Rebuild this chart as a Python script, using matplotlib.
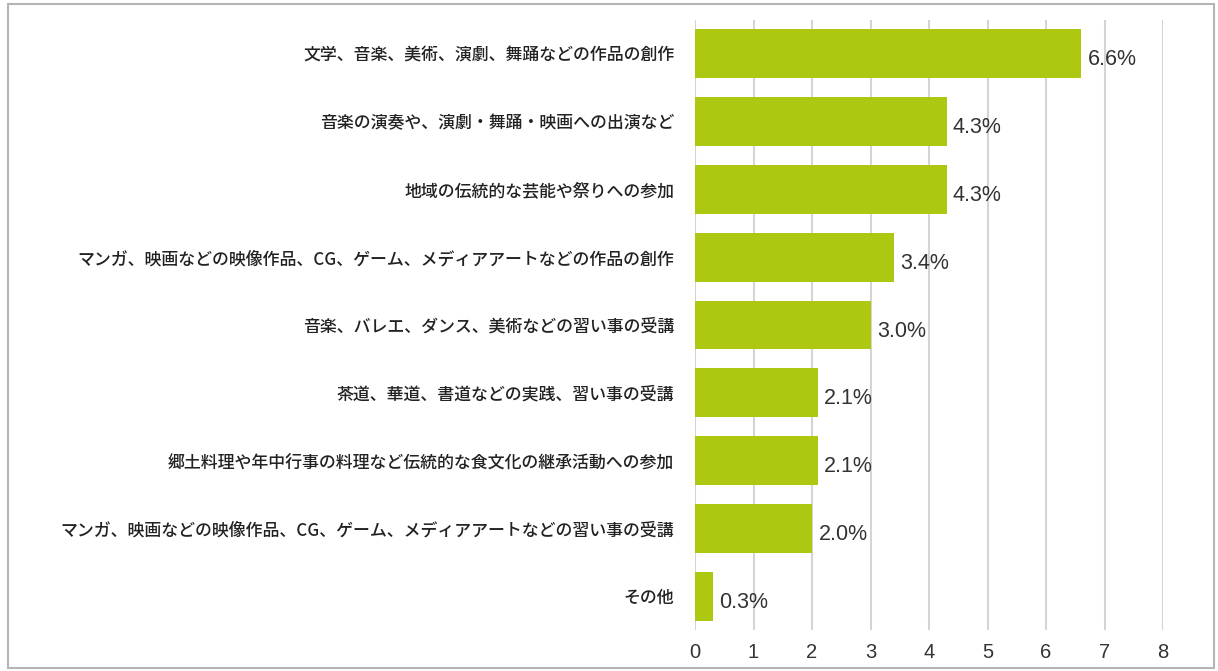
import matplotlib.pyplot as plt
from matplotlib.patches import Rectangle

plt.rcParams['font.family'] = ['Noto Sans CJK JP', 'DejaVu Sans']

labels = [
    "文学、音楽、美術、演劇、舞踊などの作品の創作",
    "音楽の演奏や、演劇・舞踊・映画への出演など",
    "地域の伝統的な芸能や祭りへの参加",
    "マンガ、映画などの映像作品、CG、ゲーム、メディアアートなどの作品の創作",
    "音楽、バレエ、ダンス、美術などの習い事の受講",
    "茶道、華道、書道などの実践、習い事の受講",
    "郷土料理や年中行事の料理など伝統的な食文化の継承活動への参加",
    "マンガ、映画などの映像作品、CG、ゲーム、メディアアートなどの習い事の受講",
    "その他",
]
values = [6.6, 4.3, 4.3, 3.4, 3.0, 2.1, 2.1, 2.0, 0.3]
xticks = [0, 1, 2, 3, 4, 5, 6, 7, 8]

bar_color = '#AEC811'
grid_color = '#D4D4D4'

fig = plt.figure(figsize=(12.18, 6.71), dpi=100)
ax = fig.add_axes([695 / 1218, 1 - 630 / 671, 468 / 1218, 610 / 671])

ypos = list(range(len(labels)))
ax.barh(ypos, values, height=0.72, color=bar_color, zorder=3)
ax.set_ylim(len(labels) - 0.5, -0.5)
ax.set_xlim(0, 8)

ax.set_yticks(ypos)
ax.set_yticklabels(labels, fontsize=12.2, fontweight='medium', color='#222222')
ax.set_xticks(xticks)
ax.set_xticklabels([str(t) for t in xticks], fontsize=14.5, color='#333333',
                   family=['Liberation Sans', 'DejaVu Sans'])
ax.tick_params(axis='y', length=0, pad=15)
ax.tick_params(axis='x', length=0, pad=9)

for t in xticks:
    ax.axvline(t, color=grid_color, linewidth=1.5, zorder=1)

for s in ax.spines.values():
    s.set_visible(False)

for y, v in zip(ypos, values):
    ax.text(v + 0.11, y + 0.09, f"{v:.1f}%", va='center', ha='left', fontsize=15.5,
            color='#333333', family=['Liberation Sans', 'DejaVu Sans'])

fig.patches.append(Rectangle((8 / 1218, 1 - 668 / 671), 1206 / 1218, 664 / 671,
                             transform=fig.transFigure, fill=False,
                             edgecolor='#B5B5B5', linewidth=1.5))

fig.savefig("out.png", dpi=100)
